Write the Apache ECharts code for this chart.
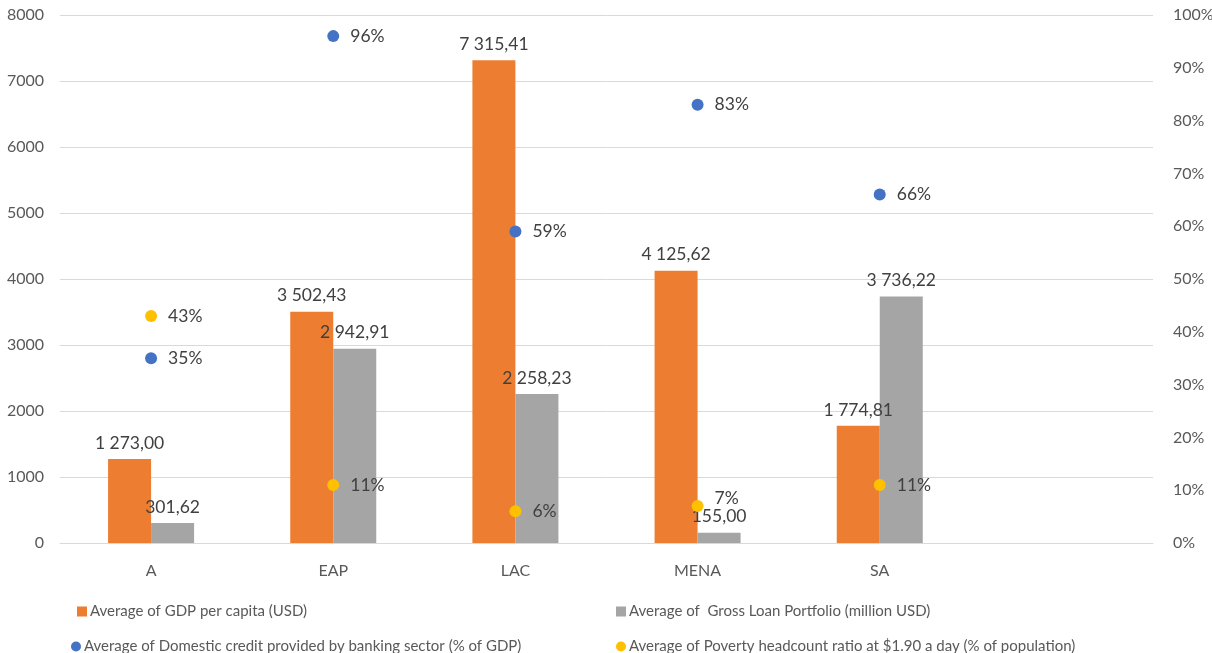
<!DOCTYPE html>
<html><head><meta charset="utf-8">
<script src="https://cdn.jsdelivr.net/npm/echarts@6/dist/echarts.min.js"></script>
<style>html,body{margin:0;padding:0;background:#fff}#c{width:1212px;height:653px}</style>
</head><body><div id="c"></div>
<script>
const categories = ['A','EAP','LAC','MENA','SA',''];
const gdp = [1273.00, 3502.43, 7315.41, 4125.62, 1774.81, null];
const loan = [301.62, 2942.91, 2258.23, 155.00, 3736.22, null];
const credit = [0.35, 0.96, 0.59, 0.83, 0.66, null];
const poverty = [0.43, 0.11, 0.06, 0.07, 0.11, null];
const leftTicks = [0, 8000, 1000];
const rightTicks = [0, 1, 0.1];
const names = ['Average of GDP per capita (USD)','Average of  Gross Loan Portfolio (million USD)',
  'Average of Domestic credit provided by banking sector (% of GDP)','Average of Poverty headcount ratio at $1.90 a day (% of population)'];

function fmt(v){
  const s = v.toFixed(2).split('.');
  return s[0].replace(/\B(?=(\d{3})+(?!\d))/g,' ') + ',' + s[1];
}
const FONT = 'Lato';
const txt = {color:'#595959', fontFamily:FONT, fontSize:16};
const lab = {color:'#404040', fontFamily:FONT, fontSize:17.5};
const chart = echarts.init(document.getElementById('c'));
function leg(name, left, top, icon){
  return {data:[{name, icon}], left, top, itemWidth:10, itemHeight:10, itemGap:4,
    textStyle:{color:'#595959', fontFamily:FONT, fontSize:15, padding:[0,0,0,-2]}, selectedMode:false};
}
// Excel nudged the MENA poverty label upward to avoid the bar label below it
const povertyData = poverty.map((v,i)=> categories[i]==='MENA' ? {value:v, label:{offset:[0,-8]}} : v);
chart.setOption({
  animation:false,
  grid:{left:60, right:59, top:15, bottom:110, containLabel:false, outerBoundsMode:'none'},
  legend:[leg(names[0],72,599,'rect'), leg(names[1],611,599,'rect'),
          leg(names[2],66,634,'circle'), leg(names[3],611,634,'circle')],
  xAxis:{type:'category', data:categories,
    axisLine:{lineStyle:{color:'#d9d9d9'}}, axisTick:{show:false},
    axisLabel:{...txt, margin:20}},
  yAxis:[{type:'value', min:leftTicks[0], max:leftTicks[1], interval:leftTicks[2],
    axisLabel:{...txt, margin:16, formatter:v=>String(v)}, splitLine:{lineStyle:{color:'#d9d9d9'}}},
   {type:'value', min:rightTicks[0], max:rightTicks[1], interval:rightTicks[2],
    axisLabel:{...txt, margin:20, formatter:v=>Math.round(v*100)+'%'}, splitLine:{show:false}}],
  series:[
    {name:names[0], type:'bar', data:gdp, barWidth:43, barGap:'0%', itemStyle:{color:'#ED7D31'},
      label:{show:true, position:'top', distance:7, ...lab, formatter:p=>fmt(p.value)}},
    {name:names[1], type:'bar', data:loan, barWidth:43, barGap:'0%', itemStyle:{color:'#A5A5A5'},
      label:{show:true, position:'top', distance:7, ...lab, formatter:p=>fmt(p.value)}},
    {name:names[2], type:'scatter', yAxisIndex:1, data:credit, symbolSize:12, itemStyle:{color:'#4472C4', opacity:1},
      label:{show:true, position:'right', distance:11, ...lab, formatter:p=>Math.round(p.value*100)+'%'}},
    {name:names[3], type:'scatter', yAxisIndex:1, data:povertyData, symbolSize:12, itemStyle:{color:'#FFC000', opacity:1},
      label:{show:true, position:'right', distance:11, ...lab, formatter:p=>Math.round(p.value*100)+'%'}}
  ]
});
</script></body></html>
